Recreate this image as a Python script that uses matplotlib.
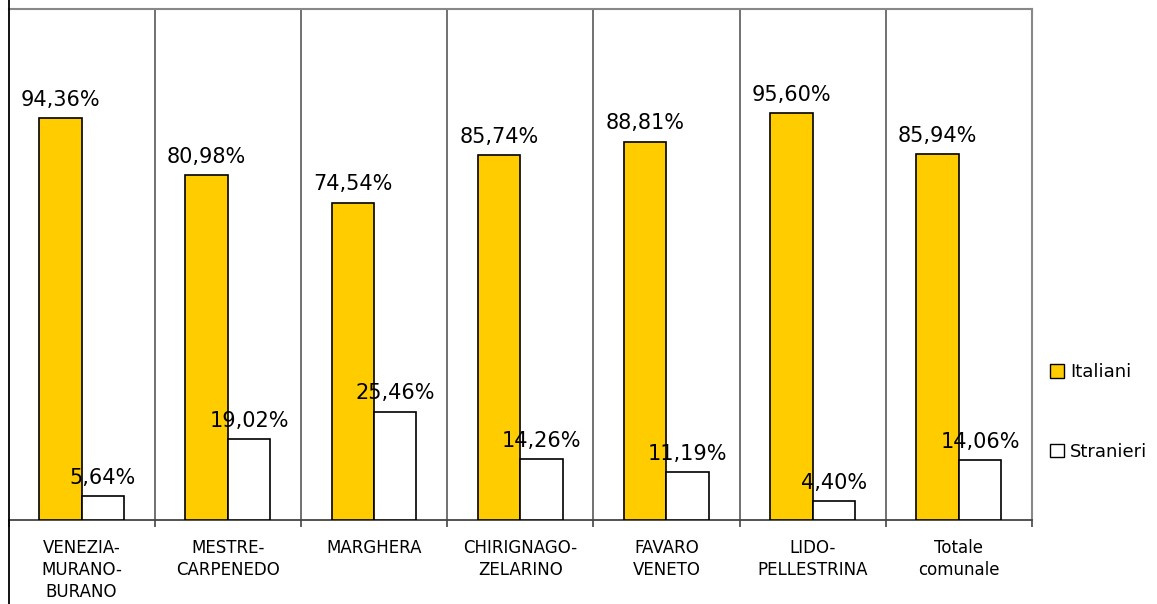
import matplotlib
matplotlib.use("Agg")
import matplotlib.pyplot as plt
import matplotlib.patches as mpatches
from matplotlib.lines import Line2D
import numpy as np

categories = ["VENEZIA-\nMURANO-\nBURANO", "MESTRE-\nCARPENEDO", "MARGHERA",
              "CHIRIGNAGO-\nZELARINO", "FAVARO\nVENETO", "LIDO-\nPELLESTRINA",
              "Totale\ncomunale"]
italiani = [94.36, 80.98, 74.54, 85.74, 88.81, 95.60, 85.94]
stranieri = [5.64, 19.02, 25.46, 14.26, 11.19, 4.40, 14.06]


def fmt(v):
    return ("%.2f%%" % v).replace(".", ",")


fig = plt.figure(figsize=(11.57, 6.04), dpi=100)
ax = fig.add_axes([8.5 / 1157, 84 / 604, (1032 - 8.5) / 1157, (520 - 9) / 604])

x = np.arange(len(categories))
w = 0.29
b1 = ax.bar(x - w / 2, italiani, w, color="#FFCC00", edgecolor="black", linewidth=1.2, zorder=3)
b2 = ax.bar(x + w / 2, stranieri, w, color="white", edgecolor="black", linewidth=1.2, zorder=3)

for rect, v in zip(list(b1) + list(b2), italiani + stranieri):
    ax.annotate(fmt(v), (rect.get_x() + rect.get_width() / 2, rect.get_height()),
                xytext=(0, 6), textcoords="offset points", ha="center", va="bottom",
                fontsize=15, zorder=4)

ax.set_xlim(-0.5, len(categories) - 0.5)
ax.set_ylim(0, 120)
ax.set_yticks([])

# category boundaries: gridlines + small ticks under the axis
bounds = np.arange(0.5, len(categories) - 0.5, 1.0)
for b in bounds:
    ax.axvline(b, color="#666666", linewidth=1.3, zorder=1)
ax.set_xticks(np.arange(-0.5, len(categories) + 0.5, 1.0))
ax.set_xticklabels([])
ax.tick_params(axis="x", direction="out", length=5, color="#444444", width=1.2)

for i, c in enumerate(categories):
    ax.text(i, -0.037, c, transform=ax.get_xaxis_transform(), ha="center", va="top",
            fontsize=12, linespacing=1.3)

ax.spines["top"].set_color("#888888")
ax.spines["right"].set_color("#888888")
ax.spines["top"].set_linewidth(1.5)
ax.spines["right"].set_linewidth(1.5)
ax.spines["bottom"].set_color("#444444")
ax.spines["bottom"].set_linewidth(1.3)
ax.spines["left"].set_visible(False)

# left border of the chart image
fig.add_artist(Line2D([8.5 / 1157, 8.5 / 1157], [0, 1], color="black", linewidth=1.3))

h1 = mpatches.Patch(facecolor="#FFCC00", edgecolor="black", label="Italiani")
h2 = mpatches.Patch(facecolor="white", edgecolor="black", label="Stranieri")
fig.legend(handles=[h1, h2], loc="center left", bbox_to_anchor=(1043 / 1157, (604 - 412) / 604),
           frameon=False, fontsize=13, handlelength=0.75, handleheight=0.75,
           handletextpad=0.35, labelspacing=3.4, borderaxespad=0)

fig.savefig("out.png", dpi=100)
